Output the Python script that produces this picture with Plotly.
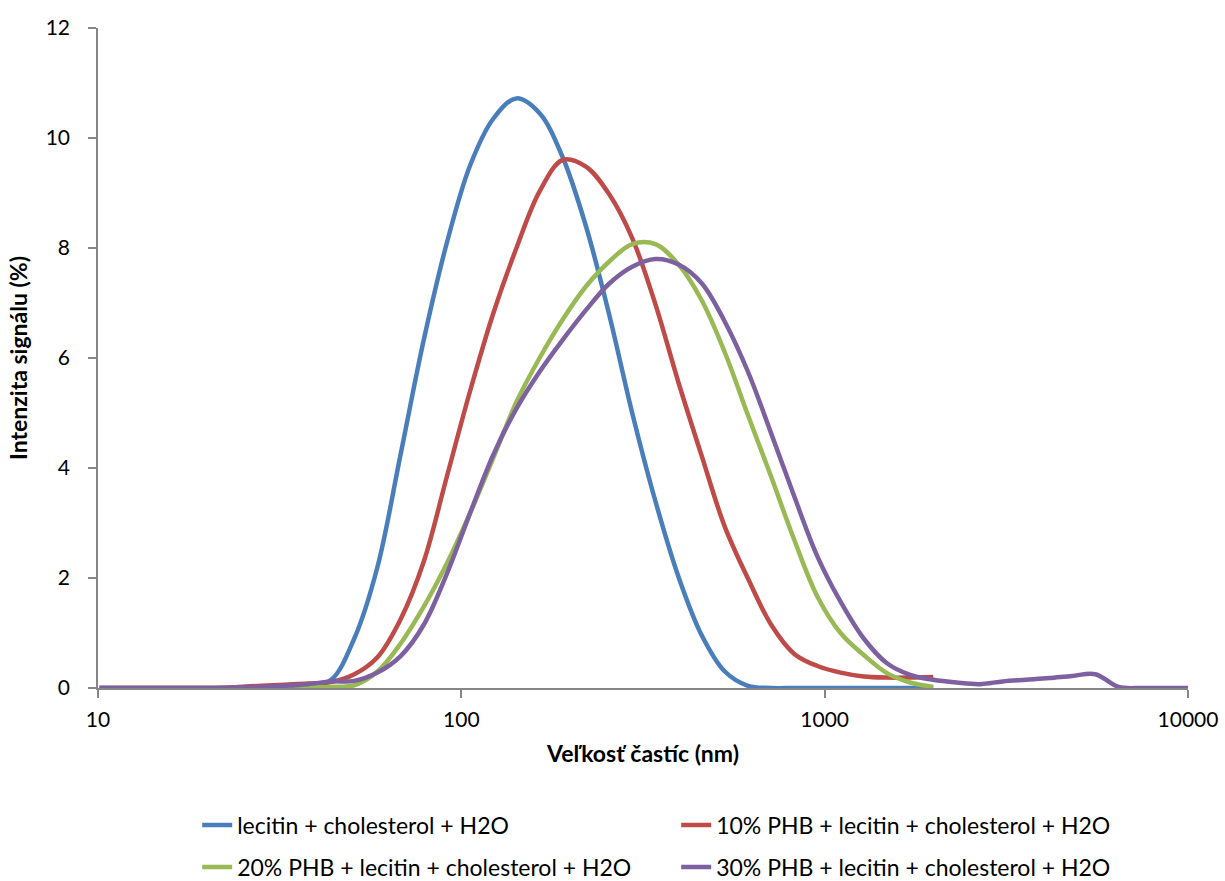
import plotly.graph_objects as go

# particle size bins (nm)
size_bins = [10.1, 11.7, 13.54, 15.69, 18.17, 21.04, 24.36, 28.21, 32.67, 37.84,
             43.82, 50.75, 58.77, 68.06, 78.82, 91.28, 105.7, 122.4, 141.8, 164.2,
             190.1, 220.2, 255.0, 295.3, 342.0, 396.1, 458.7, 531.2, 615.1, 712.4,
             825.0, 955.4, 1106, 1281, 1484, 1718, 1990]
size_bins_ext = [2305, 2669, 3091, 3580, 4145, 4801, 5560, 6439, 7456, 8635, 10000]

lecitin = [0, 0, 0, 0, 0, 0, 0, 0, 0, 0.03,
           0.15, 0.9, 2.2, 4.25, 6.33, 8.1, 9.5, 10.35, 10.72, 10.45,
           9.65, 8.4, 6.8, 5.0, 3.4, 2.02, 0.96, 0.3, 0.04, 0,
           0, 0, 0, 0, 0, 0, 0]
phb10 = [0, 0, 0, 0, 0, 0, 0.02, 0.04, 0.06, 0.08,
         0.11, 0.25, 0.56, 1.25, 2.3, 3.85, 5.4, 6.81, 8.0, 9.03,
         9.6, 9.48, 8.98, 8.18, 6.98, 5.55, 4.22, 2.93, 1.99, 1.15,
         0.62, 0.4, 0.28, 0.21, 0.19, 0.19, 0.2]
phb20 = [0, 0, 0, 0, 0, 0, 0, 0, 0, 0.01,
         0.02, 0.05, 0.3, 0.81, 1.48, 2.27, 3.18, 4.18, 5.2, 6.0,
         6.7, 7.3, 7.75, 8.07, 8.07, 7.7, 7.05, 6.1, 4.96, 3.84,
         2.69, 1.66, 1.0, 0.6, 0.27, 0.1, 0.02]
phb30 = [0, 0, 0, 0, 0, 0, 0.01, 0.02, 0.04, 0.07,
         0.12, 0.13, 0.28, 0.58, 1.15, 2.08, 3.18, 4.24, 5.08, 5.75,
         6.33, 6.87, 7.35, 7.66, 7.8, 7.7, 7.36, 6.66, 5.75, 4.63,
         3.48, 2.39, 1.57, 0.9, 0.45, 0.24, 0.15,
         0.1, 0.07, 0.12, 0.15, 0.18, 0.22, 0.25, 0.02, 0, 0, 0]

names = ["lecitin + cholesterol + H2O",
         "10% PHB + lecitin + cholesterol + H2O",
         "20% PHB + lecitin + cholesterol + H2O",
         "30% PHB + lecitin + cholesterol + H2O"]
colors = ["#4A7EBB", "#BE4B48", "#98B954", "#7D60A0"]

x_ticks = [10, 100, 1000, 10000]
y_ticks = [0, 2, 4, 6, 8, 10, 12]

FONT = "Lato"
fig = go.Figure()
series = [(size_bins, lecitin), (size_bins, phb10), (size_bins, phb20),
          (size_bins + size_bins_ext, phb30)]
legends = ["legend", "legend", "legend2", "legend2"]
for (xs, ys), nm, col, lg in zip(series, names, colors, legends):
    fig.add_trace(go.Scatter(x=xs, y=ys, name=nm, mode="lines",
                             line=dict(color=col, width=4.5, shape="spline", smoothing=1.0),
                             legend=lg))

axis_col = "#868686"
leg_common = dict(orientation="h", x=0.091, xanchor="left", yref="container",
                  yanchor="middle", entrywidth=434, entrywidthmode="pixels",
                  font=dict(size=23, family=FONT), bgcolor="rgba(0,0,0,0)")
fig.update_layout(
    width=1225, height=881,
    margin=dict(l=98, r=37, t=28, b=193),
    plot_bgcolor="white", paper_bgcolor="white",
    font=dict(family=FONT, size=21, color="black"),
    showlegend=True,
    legend=dict(y=1 - 825 / 881, **leg_common),
    legend2=dict(y=1 - 867 / 881, **leg_common),
    xaxis=dict(type="log", range=[1, 4], tickvals=x_ticks, ticktext=[str(v) for v in x_ticks],
               showgrid=False, zeroline=False, showline=True, linecolor=axis_col, linewidth=1.5,
               ticks="outside", ticklen=8, tickcolor=axis_col, tickwidth=1.5,
               ticklabelstandoff=4, automargin=False,
               title=dict(text="<b>Veľkosť častíc (nm)</b>", font=dict(size=23, family=FONT), standoff=16)),
    yaxis=dict(range=[0, 12], tickvals=y_ticks, showgrid=False, zeroline=False,
               showline=True, linecolor=axis_col, linewidth=1.5,
               ticks="outside", ticklen=8, tickcolor=axis_col, tickwidth=1.5,
               ticklabelstandoff=14, automargin=False,
               title=dict(text="<b>Intenzita signálu (%)</b>", font=dict(size=23, family=FONT), standoff=12)),
)

fig.write_html("out.html", config={"displayModeBar": False},
               post_script="document.body.style.margin='0';document.body.style.overflow='hidden';")
